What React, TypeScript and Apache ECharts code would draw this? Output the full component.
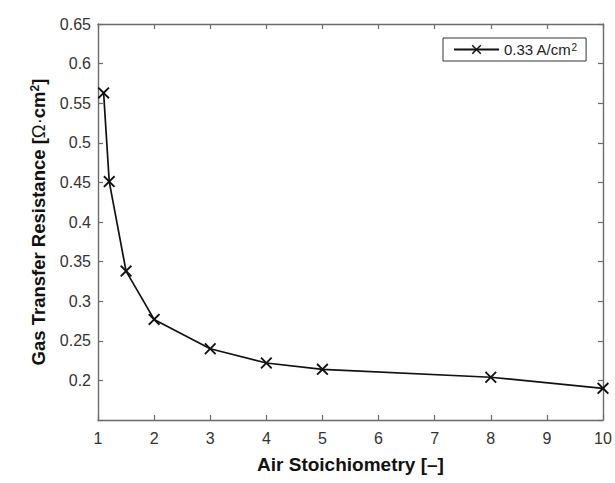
import React, { useEffect, useRef } from "react";
import * as echarts from "echarts";

const stoichiometry = [1.1, 1.2, 1.5, 2, 3, 4, 5, 8, 10];
const resistance = [0.563, 0.451, 0.338, 0.277, 0.24, 0.222, 0.214, 0.204, 0.19];
const seriesName = "0.33 A/cm2";
const xTitle = "Air Stoichiometry [–]";
const yTitle = "Gas Transfer Resistance [{n|Ω·}cm{sup|2}]";

const FONT = "'Liberation Sans', Arial, Helvetica, sans-serif";
const CROSS =
  "path://M0,1.1 L1.1,0 L5,3.9 L8.9,0 L10,1.1 L6.1,5 L10,8.9 L8.9,10 L5,6.1 L1.1,10 L0,8.9 L3.9,5 Z";

export default function App() {
  const ref = useRef<HTMLDivElement>(null);
  useEffect(() => {
    const chart = echarts.init(ref.current!, null, { renderer: "svg" });
    const axisLine = { show: true, lineStyle: { color: "#6b6b6b", width: 1.4 } };
    const tick = { show: true, inside: true, length: 5, lineStyle: { color: "#6b6b6b", width: 1.2 } };
    chart.setOption({
      animation: false,
      backgroundColor: "#ffffff",
      grid: { left: 98, right: 12, top: 24, bottom: 63, containLabel: false, outerBoundsMode: "none" },
      legend: {
        show: true,
        left: 443,
        top: 38,
        padding: [4, 9, 4, 10],
        itemWidth: 45,
        itemHeight: 12,
        itemGap: 5,
        borderColor: "#333",
        borderWidth: 1,
        formatter: () => "0.33 A/cm{sup|2}",
        textStyle: {
          fontFamily: FONT,
          fontSize: 15,
          color: "#222",
          rich: {
            sup: { fontFamily: FONT, fontSize: 10, color: "#222", verticalAlign: "top", lineHeight: 14 },
          },
        },
        data: [{ name: seriesName }],
      },
      xAxis: [
        {
          type: "value",
          min: 1,
          max: 10,
          interval: 1,
          position: "bottom",
          axisLine,
          axisTick: tick,
          splitLine: { show: false },
          axisLabel: { fontFamily: FONT, fontSize: 16, color: "#333", margin: 10 },
          name: xTitle,
          nameLocation: "middle",
          nameGap: 35,
          nameTextStyle: { fontFamily: FONT, fontSize: 19, fontWeight: "bold", color: "#111" },
        },
        {
          type: "value",
          min: 1,
          max: 10,
          interval: 1,
          position: "top",
          axisLine,
          axisTick: tick,
          splitLine: { show: false },
          axisLabel: { show: false },
        },
      ],
      yAxis: [
        {
          type: "value",
          min: 0.15,
          max: 0.65,
          interval: 0.05,
          position: "left",
          axisLine,
          axisTick: tick,
          splitLine: { show: false },
          axisLabel: {
            fontFamily: FONT,
            fontSize: 16,
            color: "#333",
            margin: 7,
            formatter: (v: number) => (v < 0.17 ? "" : String(+v.toFixed(2))),
          },
          name: yTitle,
          nameLocation: "middle",
          nameGap: 50,
          nameTextStyle: {
            fontFamily: FONT,
            fontSize: 18.5,
            fontWeight: "bold",
            color: "#111",
            rich: {
              n: { fontFamily: FONT, fontSize: 18.5, fontWeight: "normal", color: "#111" },
              sup: { fontFamily: FONT, fontSize: 12, fontWeight: "bold", color: "#111", verticalAlign: "top", lineHeight: 16 },
            },
          },
        },
        {
          type: "value",
          min: 0.15,
          max: 0.65,
          interval: 0.05,
          position: "right",
          axisLine,
          axisTick: tick,
          splitLine: { show: false },
          axisLabel: { show: false },
        },
      ],
      series: [
        {
          name: seriesName,
          type: "line",
          xAxisIndex: 0,
          yAxisIndex: 0,
          data: stoichiometry.map((x, i) => [x, resistance[i]]),
          symbol: CROSS,
          symbolSize: 12,
          showSymbol: true,
          lineStyle: { color: "#111", width: 1.7 },
          itemStyle: { color: "#111" },
          clip: false,
        },
      ],
    });
    return () => chart.dispose();
  }, []);
  return (
    <div
      ref={ref}
      style={{ position: "fixed", left: 0, top: 0, width: 615, height: 483, background: "#fff" }}
    />
  );
}
